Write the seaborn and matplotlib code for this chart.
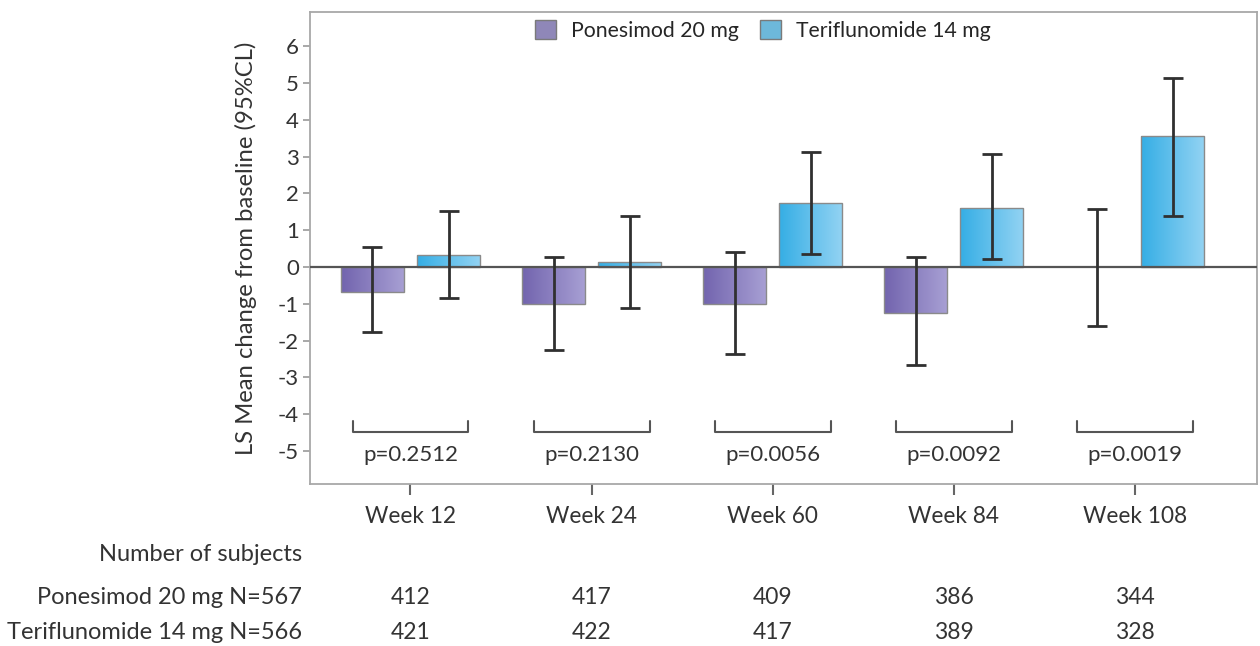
import numpy as np
import pandas as pd
import seaborn as sns
import matplotlib.pyplot as plt
from matplotlib.colors import LinearSegmentedColormap

weeks = ['Week 12', 'Week 24', 'Week 60', 'Week 84', 'Week 108']
groups = ['Ponesimod 20 mg', 'Teriflunomide 14 mg']

# LS mean change and 95% CL
pon_mean = [-0.68, -1.02, -1.02, -1.25, 0.0]
pon_low = [-1.78, -2.25, -2.37, -2.66, -1.60]
pon_high = [0.55, 0.26, 0.40, 0.28, 1.58]
ter_mean = [0.32, 0.13, 1.75, 1.61, 3.56]
ter_low = [-0.85, -1.12, 0.35, 0.22, 1.40]
ter_high = [1.52, 1.39, 3.13, 3.08, 5.15]

p_values = ['p=0.2512', 'p=0.2130', 'p=0.0056', 'p=0.0092', 'p=0.0019']
pon_n = [412, 417, 409, 386, 344]
ter_n = [421, 422, 417, 389, 328]
row_labels = ['Ponesimod 20 mg N=567', 'Teriflunomide 14 mg N=566']

df = pd.DataFrame({
    'week': weeks * 2,
    'group': [groups[0]] * len(weeks) + [groups[1]] * len(weeks),
    'mean': pon_mean + ter_mean,
    'low': pon_low + ter_low,
    'high': pon_high + ter_high,
})

sns.set_style('white')
plt.rcParams['font.family'] = ['Lato', 'DejaVu Sans']
plt.rcParams['axes.unicode_minus'] = False

grad = {
    groups[0]: ('#7264ae', '#a8a0d4'),
    groups[1]: ('#35aee5', '#93d3f3'),
}
mid = {groups[0]: '#8a7fc0', groups[1]: '#5bbfec'}
txt = '#333333'

fig = plt.figure(figsize=(12.6, 6.46), dpi=100)
ax = fig.add_axes([0.246, 0.251, 0.752, 0.730])

sns.barplot(data=df, x='week', y='mean', hue='group', palette=mid,
            width=0.84, gap=0.17, errorbar=None, edgecolor='#8a8a8a',
            linewidth=1, ax=ax)

# gradient fill for every bar
ramp = np.linspace(0, 1, 200).reshape(1, -1)
for cont, g in zip(ax.containers, groups):
    cmap = LinearSegmentedColormap.from_list(g, grad[g])
    sub = df[df['group'] == g]
    xs = []
    for bar in cont:
        xs.append(bar.get_x() + bar.get_width() / 2)
        h = bar.get_height()
        if h == 0:
            bar.set_visible(False)
            continue
        x0 = bar.get_x()
        y0 = bar.get_y()
        im = ax.imshow(ramp, cmap=cmap, aspect='auto', zorder=2,
                       extent=[x0, x0 + bar.get_width(), min(y0, y0 + h), max(y0, y0 + h)])
        im.set_clip_path(bar)
        bar.set_facecolor('none')
        bar.set_zorder(3)
    m = sub['mean'].values
    ax.errorbar(xs, m, yerr=[m - sub['low'].values, sub['high'].values - m],
                fmt='none', ecolor='#303030', elinewidth=2, capsize=7.5,
                capthick=2, zorder=5)

ax.axhline(0, color='#555555', lw=1.6, zorder=4)

# p-value brackets
for i, p in enumerate(p_values):
    ax.plot([i - 0.32, i - 0.32, i + 0.32, i + 0.32], [-4.2, -4.5, -4.5, -4.2],
            color='#555555', lw=1.5, zorder=4)
    ax.text(i, -5.12, p, ha='center', va='center', fontsize=16, color=txt)

ax.set_xlim(-0.555, 4.677)
ax.set_ylim(-5.9, 6.93)
ax.set_yticks(range(-5, 7))
ax.set_xlabel('')
ax.set_ylabel('LS Mean change from baseline (95%CL)', fontsize=17.2,
              color=txt, labelpad=15)
ax.tick_params(axis='y', direction='out', length=5, width=1.2, color='#9a9a9a',
               labelsize=16, labelcolor=txt, left=True, pad=3)
ax.tick_params(axis='x', direction='out', length=8, width=1.5, color='#666666',
               labelsize=16.3, labelcolor=txt, bottom=True, pad=8)
for s in ax.spines.values():
    s.set_color('#a8a8a8')
    s.set_linewidth(1.3)
    s.set_visible(True)

handles, labels = ax.get_legend_handles_labels()
for h in handles:
    h.set_edgecolor('#7a7a7a')
ax.legend(handles, labels, loc='upper center', bbox_to_anchor=(0.478, 1.024),
          ncol=2, frameon=False, fontsize=15.3, handlelength=1.0,
          handleheight=1.0, columnspacing=1.0, handletextpad=0.7)

# subject counts table under the axis
tr = ax.get_xaxis_transform()
ax.text(-0.0085, -0.150, 'Number of subjects', transform=ax.transAxes,
        ha='right', va='center', fontsize=17, color=txt)
for yy, lab, counts in zip([-0.2415, -0.3157], row_labels, [pon_n, ter_n]):
    ax.text(-0.0085, yy, lab, transform=ax.transAxes, ha='right', va='center',
            fontsize=17, color=txt)
    for i, n in enumerate(counts):
        ax.text(i, yy, str(n), transform=tr, ha='center', va='center',
                fontsize=16.5, color=txt)

fig.savefig('out.png', dpi=100)
